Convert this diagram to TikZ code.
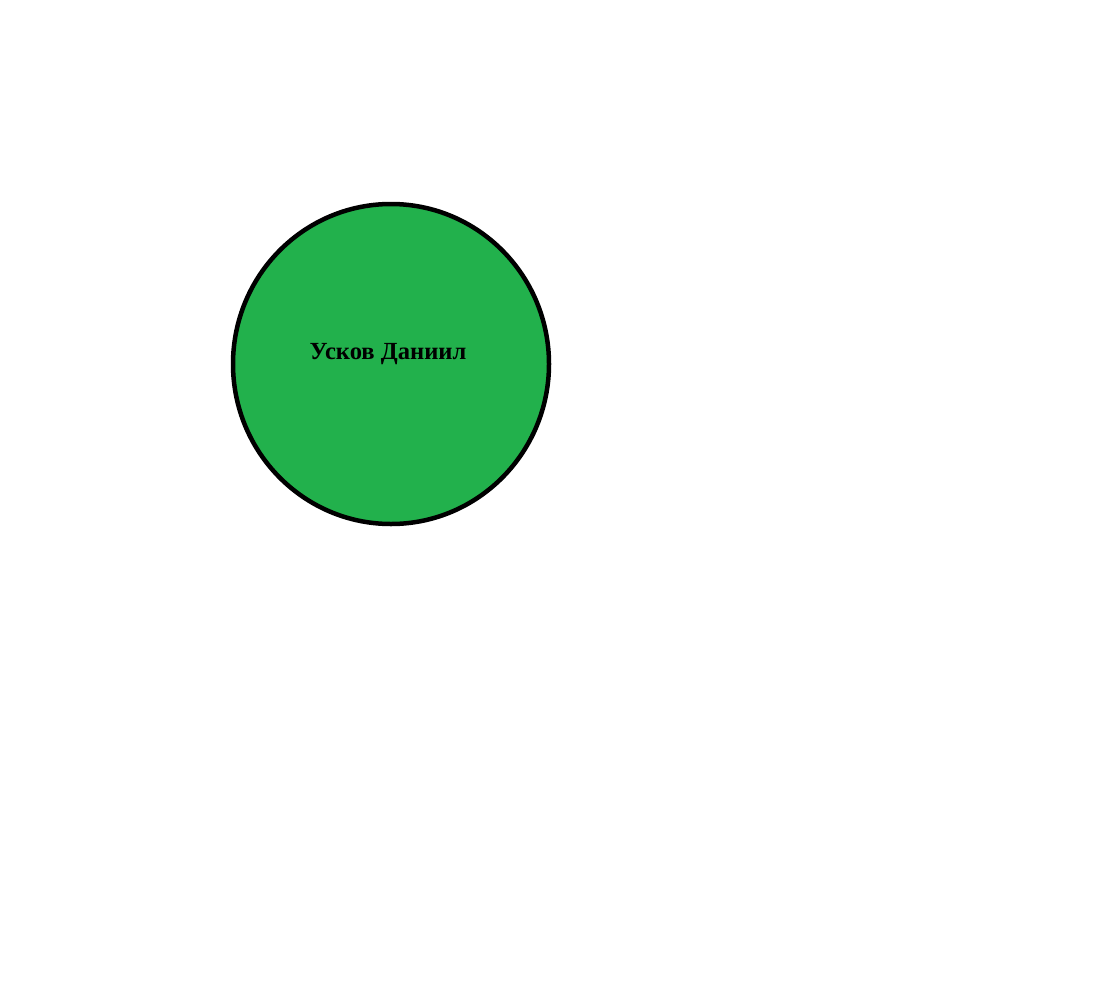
\documentclass[tikz,border=0pt]{standalone}
\usepackage{fontspec}
\setmainfont{Liberation Serif}
\usetikzlibrary{shapes.geometric}
\definecolor{paintgreen}{RGB}{34,177,76}
\begin{document}
\begin{tikzpicture}[x=1pt,y=-1pt,
  person/.style={draw=black,line width=4.5pt,fill=paintgreen,ellipse,minimum width=316pt,minimum height=320pt,inner sep=0pt}]
\useasboundingbox (0,0) rectangle (1102,998);
\node[person] (circ) at (391,364) {};
\node[font=\bfseries\fontsize{24.6}{28}\selectfont,anchor=base] (name) at (388,359) {Усков Даниил};
\end{tikzpicture}
\end{document}
